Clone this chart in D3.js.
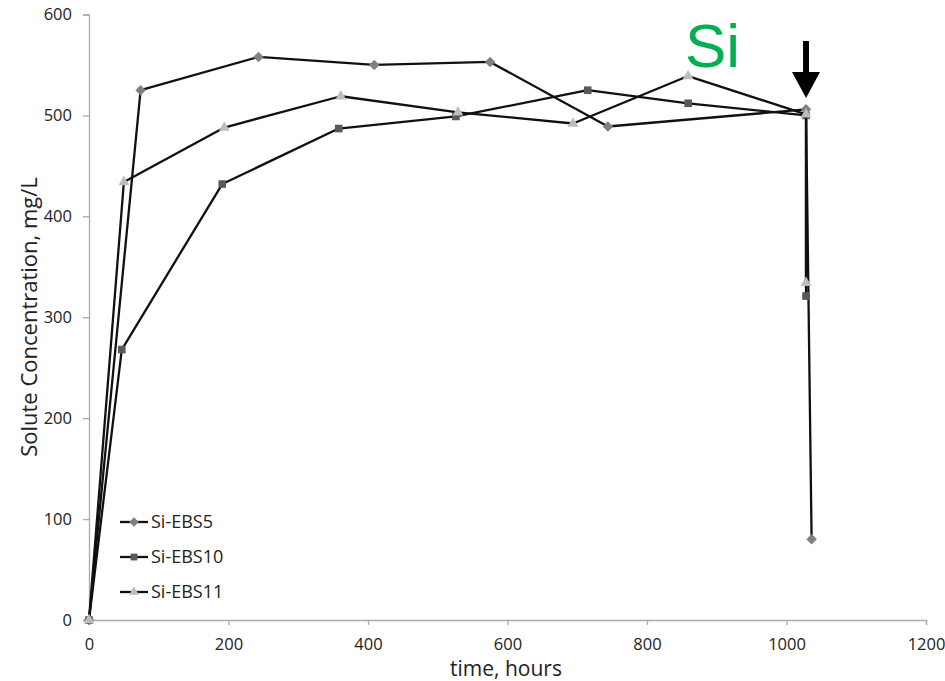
<!DOCTYPE html>
<html>
<head>
<meta charset="utf-8">
<script src="https://cdn.jsdelivr.net/npm/d3@7"></script>
<style>
  body { margin: 0; background: #fff; }
  text { font-family: "Open Sans", sans-serif; fill: #222; }
</style>
</head>
<body>
<div id="chart"></div>
<script>
// data (time in hours, concentration in mg/L)
var ebs5Time = [0, 74, 243, 409, 575, 744, 1028, 1036];
var ebs5Conc = [0, 525, 558, 550, 553, 489, 506, 80];

var ebs10Time = [0, 47, 191, 358, 526, 715, 859, 1028, 1028];
var ebs10Conc = [0, 268, 432, 487, 499, 525, 512, 500, 321];

var ebs11Time = [0, 50, 194, 361, 529, 694, 859, 1028, 1028];
var ebs11Conc = [0, 434, 488, 519, 503, 492, 539, 501, 334];

var seriesNames = ["Si-EBS5", "Si-EBS10", "Si-EBS11"];
var xTicks = [0, 200, 400, 600, 800, 1000, 1200];
var yTicks = [0, 100, 200, 300, 400, 500, 600];

var svgWidth = 945;
var svgHeight = 681;

var svg = d3.select("#chart")
  .append("svg")
  .attr("width", svgWidth)
  .attr("height", svgHeight);

var x = d3.scaleLinear().domain([0, 1200]).range([89, 926]);
var y = d3.scaleLinear().domain([0, 600]).range([620, 14.5]);

// axes
var xAxis = svg.append("g")
  .attr("transform", "translate(0, 620)")
  .call(d3.axisBottom(x).tickValues(xTicks).tickFormat(d3.format("d")).tickSize(5).tickPadding(13));

var yAxis = svg.append("g")
  .attr("transform", "translate(89, 0)")
  .call(d3.axisLeft(y).tickValues(yTicks).tickFormat(d3.format("d")).tickSize(6).tickPadding(11));

[xAxis, yAxis].forEach(function(ax) {
  ax.select(".domain").attr("stroke", "#aaa").attr("stroke-width", 1.3);
  ax.selectAll(".tick line").attr("stroke", "#aaa").attr("stroke-width", 1.3);
  ax.selectAll(".tick text")
    .attr("fill", "#222")
    .style("font-family", "'Open Sans', sans-serif")
    .style("font-size", "16.5px");
});

// axis titles
svg.append("text")
  .attr("x", 506)
  .attr("y", 676)
  .attr("text-anchor", "middle")
  .style("font-size", "21px")
  .text("time, hours");

svg.append("text")
  .attr("transform", "translate(37, 317) rotate(-90)")
  .attr("text-anchor", "middle")
  .style("font-size", "22px")
  .text("Solute Concentration, mg/L");

// series
var diamond = d3.symbolDiamond2 || d3.symbolDiamond;
var series = [
  { name: seriesNames[0], t: ebs5Time, c: ebs5Conc, shape: diamond, fill: "#808080", size: 70 },
  { name: seriesNames[1], t: ebs10Time, c: ebs10Conc, shape: d3.symbolSquare, fill: "#595959", size: 58 },
  { name: seriesNames[2], t: ebs11Time, c: ebs11Conc, shape: d3.symbolTriangle, fill: "#bdbdbd", size: 52 }
];

var line = d3.line()
  .x(d => x(d[0]))
  .y(d => y(d[1]));

series.forEach(function(s) {
  var pts = s.t.map((t, i) => [t, s.c[i]]);

  svg.append("path")
    .datum(pts)
    .attr("d", line)
    .attr("fill", "none")
    .attr("stroke", "#111")
    .attr("stroke-width", 2.3)
    .attr("stroke-linejoin", "round");

  svg.append("g").selectAll("path")
    .data(pts)
    .enter()
    .append("path")
    .attr("transform", d => `translate(${x(d[0])}, ${y(d[1])})`)
    .attr("d", d3.symbol().type(s.shape).size(s.size))
    .attr("fill", s.fill);
});

// legend
var legend = svg.append("g");
series.forEach(function(s, i) {
  var ly = 522 + i * 35;
  legend.append("line")
    .attr("x1", 120).attr("x2", 148)
    .attr("y1", ly).attr("y2", ly)
    .attr("stroke", "#111")
    .attr("stroke-width", 2.3);
  legend.append("path")
    .attr("transform", `translate(134, ${ly})`)
    .attr("d", d3.symbol().type(s.shape).size(s.size * 0.8))
    .attr("fill", s.fill);
  legend.append("text")
    .attr("x", 151)
    .attr("y", ly)
    .attr("dy", "0.35em")
    .style("font-size", "18px")
    .text(s.name);
});

// "Si" label
svg.append("text")
  .attr("x", 685)
  .attr("y", 67)
  .style("font-family", "'Liberation Sans', Arial, sans-serif")
  .style("font-size", "62px")
  .style("fill", "#00b050")
  .text("Si");

// arrow
svg.append("line")
  .attr("x1", x(1028)).attr("x2", x(1028))
  .attr("y1", 41).attr("y2", 80)
  .attr("stroke", "#000")
  .attr("stroke-width", 6);

svg.append("path")
  .attr("d", `M${x(1028) - 14},72 L${x(1028) + 14},72 L${x(1028)},98 Z`)
  .attr("fill", "#000");
</script>
</body>
</html>
